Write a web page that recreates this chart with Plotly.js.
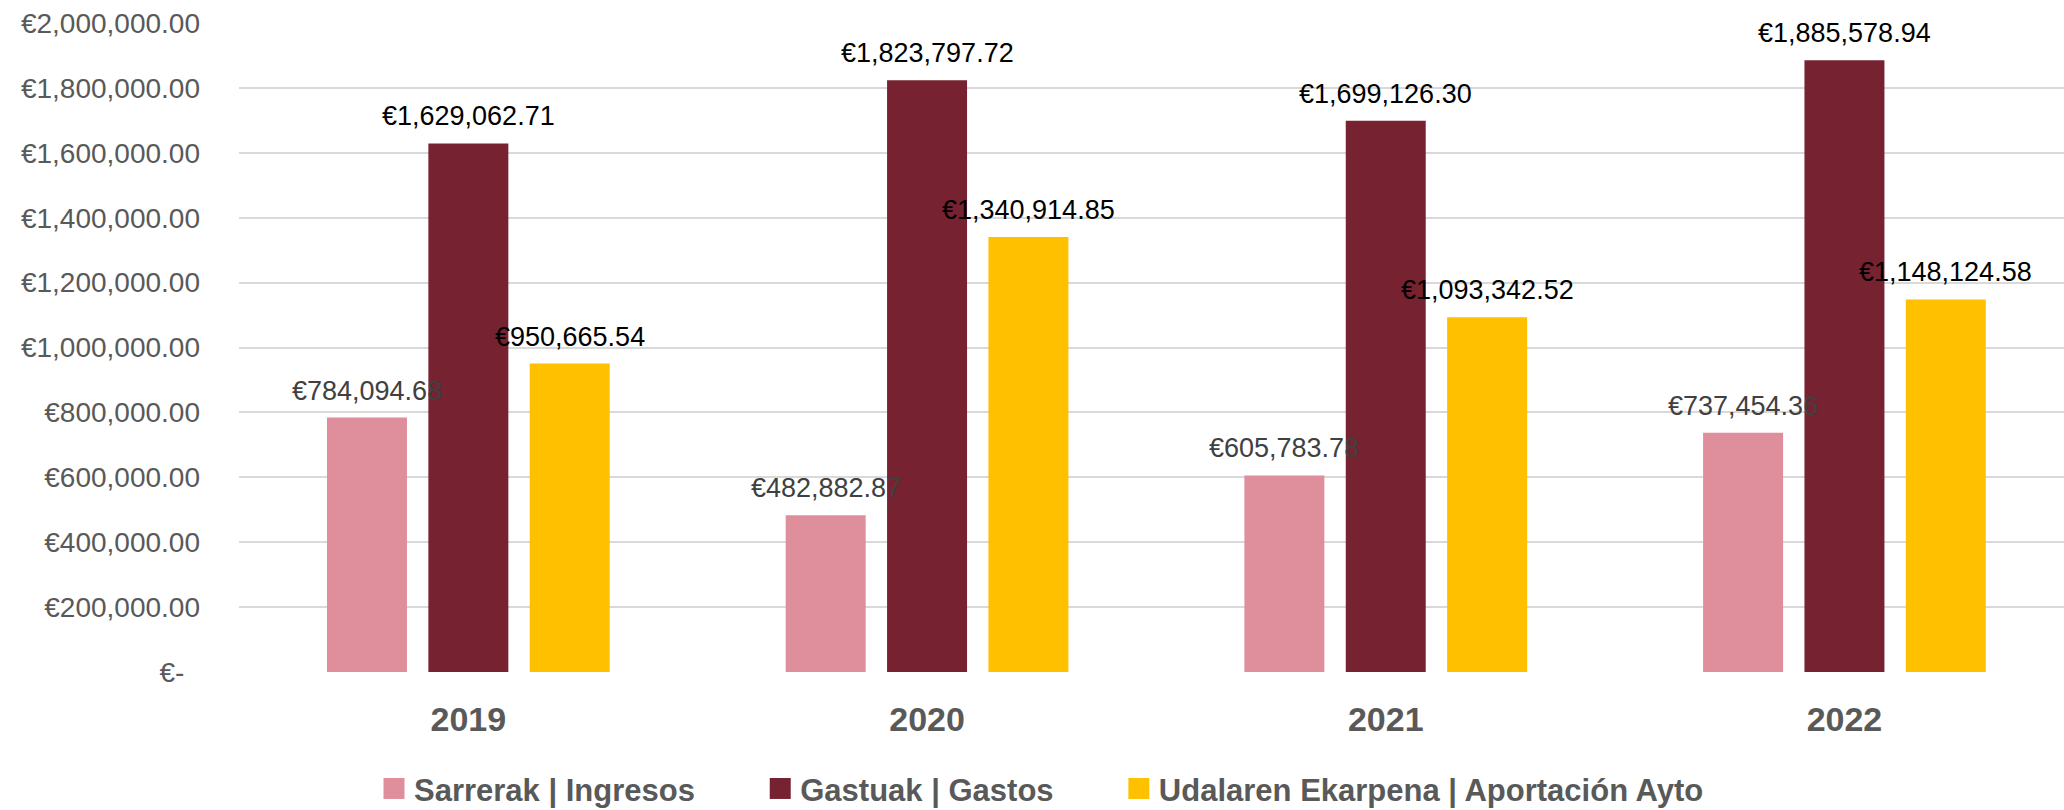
<!DOCTYPE html>
<html>
<head>
<meta charset="utf-8">
<script src="https://cdn.plot.ly/plotly-3.0.1.min.js"></script>
<style>
html,body{margin:0;padding:0;background:#fff;overflow:hidden;}
#chart{width:2064px;height:810px;}
</style>
</head>
<body>
<div id="chart"></div>
<script>
const years = ['2019', '2020', '2021', '2022'];
const seriesNames = ['Sarrerak | Ingresos', 'Gastuak | Gastos', 'Udalaren Ekarpena | Aportación Ayto'];
const ingresos = [784094.68, 482882.87, 605783.78, 737454.36];
const gastos = [1629062.71, 1823797.72, 1699126.30, 1885578.94];
const aportacion = [950665.54, 1340914.85, 1093342.52, 1148124.58];
const yTickVals = [0, 200000, 400000, 600000, 800000, 1000000, 1200000, 1400000, 1600000, 1800000, 2000000];
const yTickText = ['€-\u00a0\u00a0', '€200,000.00', '€400,000.00', '€600,000.00', '€800,000.00', '€1,000,000.00',
  '€1,200,000.00', '€1,400,000.00', '€1,600,000.00', '€1,800,000.00', '€2,000,000.00'];

const colors = ['#DF8F9B', '#762231', '#FFC000'];
const labelColors = ['#404040', '#000000', '#000000'];
const seriesValues = [ingresos, gastos, aportacion];

const W = 2064, H = 810;
const marginL = 239, marginR = 0, marginT = 23, marginB = 138;
const plotW = W - marginL - marginR;
const catPx = 458.7;
const xStart = -0.5;
const xEnd = xStart + plotW / catPx;
const bargap = 0.337;
const slot = (1 - bargap) / 3;

const fmt = v => '€' + v.toLocaleString('en-US', {minimumFractionDigits: 2, maximumFractionDigits: 2});

const pad = '\u00a0'.repeat(7);
const traces = seriesValues.map((vals, i) => ({
  type: 'bar',
  name: seriesNames[i] + (i < 2 ? pad : ''),
  x: years,
  y: vals,
  marker: {color: colors[i], line: {width: 0}},
  hoverinfo: 'x+y'
}));

const annotations = [];
seriesValues.forEach((vals, i) => {
  vals.forEach((v, j) => {
    annotations.push({
      x: j + (i - 1) * slot,
      y: v,
      xref: 'x', yref: 'y',
      text: fmt(v),
      showarrow: false,
      xanchor: 'center', yanchor: 'bottom',
      yshift: 10,
      font: {family: 'Liberation Sans, Arial, sans-serif', size: 27, color: labelColors[i]}
    });
  });
});

const boldFont = 'Liberation Sans, Arial, sans-serif';

const layout = {
  width: W, height: H,
  margin: {l: marginL, r: marginR, t: marginT, b: marginB, pad: 0, autoexpand: false},
  paper_bgcolor: '#ffffff',
  plot_bgcolor: '#ffffff',
  barmode: 'group',
  bargap: bargap,
  bargroupgap: 0.211,
  showlegend: true,
  legend: {
    orientation: 'h',
    x: (374 - marginL) / plotW, xanchor: 'left',
    y: -0.18, yanchor: 'middle',
    font: {family: boldFont, size: 31, color: '#595959', weight: 'bold'},
    itemclick: false, itemdoubleclick: false,
    traceorder: 'normal'
  },
  xaxis: {
    type: 'category',
    range: [xStart, xEnd],
    showgrid: false,
    showline: false,
    zeroline: false,
    ticks: '',
    ticklabelstandoff: 24,
    tickfont: {family: boldFont, size: 34, color: '#595959', weight: 'bold'},
    fixedrange: true
  },
  yaxis: {
    range: [-300, 2000300],
    tickmode: 'array',
    tickvals: yTickVals,
    ticktext: yTickText,
    showgrid: true,
    gridcolor: '#d9d9d9',
    gridwidth: 2,
    zeroline: false,
    showline: false,
    ticks: '',
    ticklabelstandoff: 38,
    tickfont: {family: 'Liberation Sans, Arial, sans-serif', size: 28, color: '#595959'},
    fixedrange: true
  },
  annotations: annotations
};

Plotly.newPlot('chart', traces, layout, {displayModeBar: false}).then(gd => {
  document.querySelectorAll('#chart .legendpoints path').forEach(p => {
    p.setAttribute('d', 'M10.5,10.5H-10.5V-10.5H10.5Z');
  });
});
</script>
</body>
</html>
